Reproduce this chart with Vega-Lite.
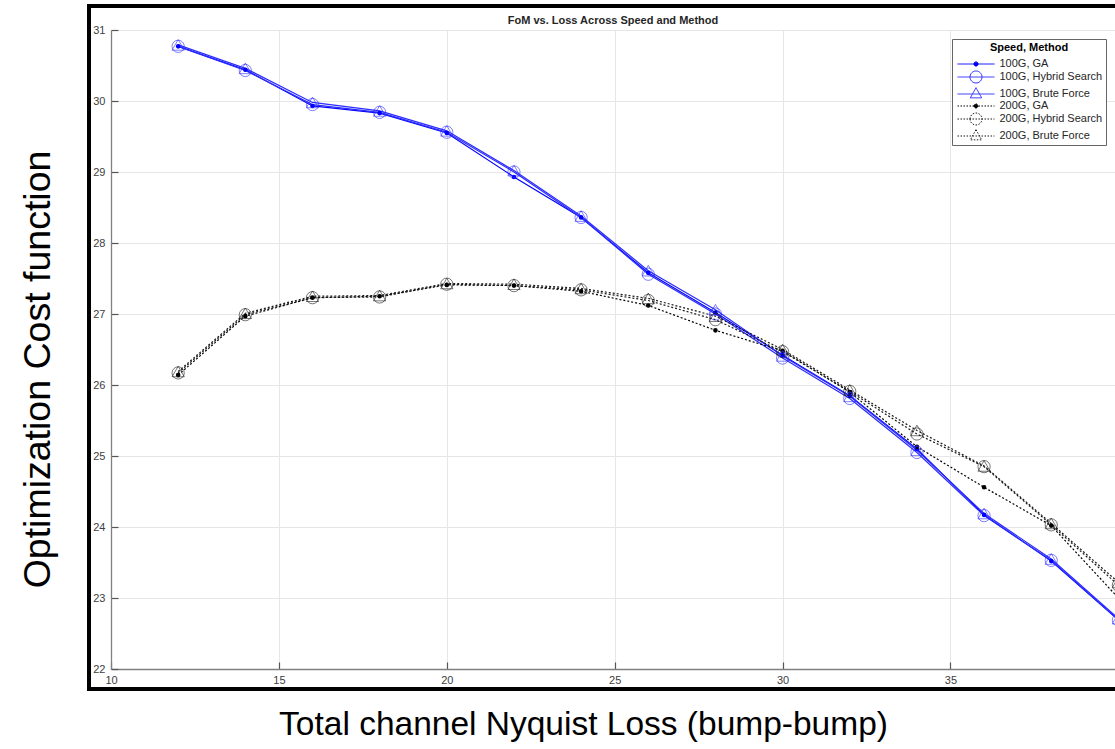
{
  "$schema": "https://vega.github.io/schema/vega-lite/v6.json",
  "width": 1004,
  "height": 639,
  "autosize": {"type": "none"},
  "padding": {"left": 111, "top": 30, "right": 0, "bottom": 80},
  "background": "white",
  "title": {
    "text": "FoM vs. Loss Across Speed and Method",
    "anchor": "middle",
    "frame": "group",
    "offset": -21,
    "fontSize": 11,
    "fontWeight": "bold",
    "font": "Liberation Sans",
    "color": "#262626"
  },
  "data": {
    "values": [
      {"loss": 12, "series": "100G, GA", "method": "GA", "fom": 30.77},
      {"loss": 14, "series": "100G, GA", "method": "GA", "fom": 30.44},
      {"loss": 16, "series": "100G, GA", "method": "GA", "fom": 29.93},
      {"loss": 18, "series": "100G, GA", "method": "GA", "fom": 29.83},
      {"loss": 20, "series": "100G, GA", "method": "GA", "fom": 29.55},
      {"loss": 22, "series": "100G, GA", "method": "GA", "fom": 28.93},
      {"loss": 24, "series": "100G, GA", "method": "GA", "fom": 28.36},
      {"loss": 26, "series": "100G, GA", "method": "GA", "fom": 27.58},
      {"loss": 28, "series": "100G, GA", "method": "GA", "fom": 27.02},
      {"loss": 30, "series": "100G, GA", "method": "GA", "fom": 26.42},
      {"loss": 32, "series": "100G, GA", "method": "GA", "fom": 25.85},
      {"loss": 34, "series": "100G, GA", "method": "GA", "fom": 25.10},
      {"loss": 36, "series": "100G, GA", "method": "GA", "fom": 24.17},
      {"loss": 38, "series": "100G, GA", "method": "GA", "fom": 23.52},
      {"loss": 40, "series": "100G, GA", "method": "GA", "fom": 22.69},

      {"loss": 12, "series": "100G, Hybrid Search", "method": "Hybrid Search", "fom": 30.77},
      {"loss": 14, "series": "100G, Hybrid Search", "method": "Hybrid Search", "fom": 30.43},
      {"loss": 16, "series": "100G, Hybrid Search", "method": "Hybrid Search", "fom": 29.95},
      {"loss": 18, "series": "100G, Hybrid Search", "method": "Hybrid Search", "fom": 29.84},
      {"loss": 20, "series": "100G, Hybrid Search", "method": "Hybrid Search", "fom": 29.56},
      {"loss": 22, "series": "100G, Hybrid Search", "method": "Hybrid Search", "fom": 29.00},
      {"loss": 24, "series": "100G, Hybrid Search", "method": "Hybrid Search", "fom": 28.36},
      {"loss": 26, "series": "100G, Hybrid Search", "method": "Hybrid Search", "fom": 27.56},
      {"loss": 28, "series": "100G, Hybrid Search", "method": "Hybrid Search", "fom": 27.00},
      {"loss": 30, "series": "100G, Hybrid Search", "method": "Hybrid Search", "fom": 26.38},
      {"loss": 32, "series": "100G, Hybrid Search", "method": "Hybrid Search", "fom": 25.81},
      {"loss": 34, "series": "100G, Hybrid Search", "method": "Hybrid Search", "fom": 25.05},
      {"loss": 36, "series": "100G, Hybrid Search", "method": "Hybrid Search", "fom": 24.16},
      {"loss": 38, "series": "100G, Hybrid Search", "method": "Hybrid Search", "fom": 23.53},
      {"loss": 40, "series": "100G, Hybrid Search", "method": "Hybrid Search", "fom": 22.69},

      {"loss": 12, "series": "100G, Brute Force", "method": "Brute Force", "fom": 30.79},
      {"loss": 14, "series": "100G, Brute Force", "method": "Brute Force", "fom": 30.46},
      {"loss": 16, "series": "100G, Brute Force", "method": "Brute Force", "fom": 29.98},
      {"loss": 18, "series": "100G, Brute Force", "method": "Brute Force", "fom": 29.86},
      {"loss": 20, "series": "100G, Brute Force", "method": "Brute Force", "fom": 29.58},
      {"loss": 22, "series": "100G, Brute Force", "method": "Brute Force", "fom": 29.02},
      {"loss": 24, "series": "100G, Brute Force", "method": "Brute Force", "fom": 28.38},
      {"loss": 26, "series": "100G, Brute Force", "method": "Brute Force", "fom": 27.61},
      {"loss": 28, "series": "100G, Brute Force", "method": "Brute Force", "fom": 27.06},
      {"loss": 30, "series": "100G, Brute Force", "method": "Brute Force", "fom": 26.41},
      {"loss": 32, "series": "100G, Brute Force", "method": "Brute Force", "fom": 25.84},
      {"loss": 34, "series": "100G, Brute Force", "method": "Brute Force", "fom": 25.08},
      {"loss": 36, "series": "100G, Brute Force", "method": "Brute Force", "fom": 24.19},
      {"loss": 38, "series": "100G, Brute Force", "method": "Brute Force", "fom": 23.55},
      {"loss": 40, "series": "100G, Brute Force", "method": "Brute Force", "fom": 22.71},

      {"loss": 12, "series": "200G, GA", "method": "GA", "fom": 26.14},
      {"loss": 14, "series": "200G, GA", "method": "GA", "fom": 26.97},
      {"loss": 16, "series": "200G, GA", "method": "GA", "fom": 27.23},
      {"loss": 18, "series": "200G, GA", "method": "GA", "fom": 27.25},
      {"loss": 20, "series": "200G, GA", "method": "GA", "fom": 27.41},
      {"loss": 22, "series": "200G, GA", "method": "GA", "fom": 27.40},
      {"loss": 24, "series": "200G, GA", "method": "GA", "fom": 27.32},
      {"loss": 26, "series": "200G, GA", "method": "GA", "fom": 27.12},
      {"loss": 28, "series": "200G, GA", "method": "GA", "fom": 26.77},
      {"loss": 30, "series": "200G, GA", "method": "GA", "fom": 26.48},
      {"loss": 32, "series": "200G, GA", "method": "GA", "fom": 25.90},
      {"loss": 34, "series": "200G, GA", "method": "GA", "fom": 25.13},
      {"loss": 36, "series": "200G, GA", "method": "GA", "fom": 24.56},
      {"loss": 38, "series": "200G, GA", "method": "GA", "fom": 24.02},
      {"loss": 40, "series": "200G, GA", "method": "GA", "fom": 23.00},

      {"loss": 12, "series": "200G, Hybrid Search", "method": "Hybrid Search", "fom": 26.17},
      {"loss": 14, "series": "200G, Hybrid Search", "method": "Hybrid Search", "fom": 26.99},
      {"loss": 16, "series": "200G, Hybrid Search", "method": "Hybrid Search", "fom": 27.23},
      {"loss": 18, "series": "200G, Hybrid Search", "method": "Hybrid Search", "fom": 27.24},
      {"loss": 20, "series": "200G, Hybrid Search", "method": "Hybrid Search", "fom": 27.42},
      {"loss": 22, "series": "200G, Hybrid Search", "method": "Hybrid Search", "fom": 27.40},
      {"loss": 24, "series": "200G, Hybrid Search", "method": "Hybrid Search", "fom": 27.34},
      {"loss": 26, "series": "200G, Hybrid Search", "method": "Hybrid Search", "fom": 27.19},
      {"loss": 28, "series": "200G, Hybrid Search", "method": "Hybrid Search", "fom": 26.92},
      {"loss": 30, "series": "200G, Hybrid Search", "method": "Hybrid Search", "fom": 26.47},
      {"loss": 32, "series": "200G, Hybrid Search", "method": "Hybrid Search", "fom": 25.91},
      {"loss": 34, "series": "200G, Hybrid Search", "method": "Hybrid Search", "fom": 25.31},
      {"loss": 36, "series": "200G, Hybrid Search", "method": "Hybrid Search", "fom": 24.85},
      {"loss": 38, "series": "200G, Hybrid Search", "method": "Hybrid Search", "fom": 24.03},
      {"loss": 40, "series": "200G, Hybrid Search", "method": "Hybrid Search", "fom": 23.18},

      {"loss": 12, "series": "200G, Brute Force", "method": "Brute Force", "fom": 26.19},
      {"loss": 14, "series": "200G, Brute Force", "method": "Brute Force", "fom": 27.01},
      {"loss": 16, "series": "200G, Brute Force", "method": "Brute Force", "fom": 27.25},
      {"loss": 18, "series": "200G, Brute Force", "method": "Brute Force", "fom": 27.26},
      {"loss": 20, "series": "200G, Brute Force", "method": "Brute Force", "fom": 27.43},
      {"loss": 22, "series": "200G, Brute Force", "method": "Brute Force", "fom": 27.42},
      {"loss": 24, "series": "200G, Brute Force", "method": "Brute Force", "fom": 27.36},
      {"loss": 26, "series": "200G, Brute Force", "method": "Brute Force", "fom": 27.22},
      {"loss": 28, "series": "200G, Brute Force", "method": "Brute Force", "fom": 26.97},
      {"loss": 30, "series": "200G, Brute Force", "method": "Brute Force", "fom": 26.50},
      {"loss": 32, "series": "200G, Brute Force", "method": "Brute Force", "fom": 25.93},
      {"loss": 34, "series": "200G, Brute Force", "method": "Brute Force", "fom": 25.36},
      {"loss": 36, "series": "200G, Brute Force", "method": "Brute Force", "fom": 24.86},
      {"loss": 38, "series": "200G, Brute Force", "method": "Brute Force", "fom": 24.05},
      {"loss": 40, "series": "200G, Brute Force", "method": "Brute Force", "fom": 23.22}
    ]
  },
  "layer": [
    {
      "transform": [{"filter": "indexof(datum.series, '100G') === 0"}],
      "mark": {"type": "line", "strokeWidth": 1.2},
      "encoding": {
        "x": {
          "field": "loss",
          "type": "quantitative",
          "scale": {"domain": [10, 39.899], "nice": false, "zero": false},
          "axis": {
            "values": [10, 15, 20, 25, 30, 35, 40],
            "format": "d",
            "title": "Total channel Nyquist Loss (bump-bump)",
            "titleFontSize": 33.5,
            "titleFont": "Liberation Sans",
            "titleFontWeight": "normal",
            "titleColor": "#000000",
            "titleX": 472,
            "titleY": 55,
            "titleAlign": "center",
            "titleBaseline": "middle",
            "tickSize": -7,
            "labelPadding": 12
          }
        },
        "y": {
          "field": "fom",
          "type": "quantitative",
          "scale": {"domain": [22, 31], "nice": false, "zero": false},
          "axis": {
            "values": [22, 23, 24, 25, 26, 27, 28, 29, 30, 31],
            "format": "d",
            "title": "Optimization Cost function",
            "titleFontSize": 37.5,
            "titleFont": "Liberation Sans",
            "titleFontWeight": "normal",
            "titleColor": "#000000",
            "titleAngle": -90,
            "titleX": -73,
            "titleY": 339,
            "titleAlign": "center",
            "titleBaseline": "middle",
            "tickSize": -7,
            "labelPadding": 13
          }
        },
        "stroke": {
          "field": "series",
          "type": "nominal",
          "scale": {
            "range": ["#2b2bff", "#0000ff", "#2b2bff", "#1a1a1a", "#000000", "#1a1a1a"]
          },
          "legend": null
        }
      }
    },
    {
      "transform": [{"filter": "indexof(datum.series, '200G') === 0"}],
      "mark": {"type": "line", "strokeWidth": 1.2, "strokeDash": [2, 2]},
      "encoding": {
        "x": {"field": "loss", "type": "quantitative"},
        "y": {"field": "fom", "type": "quantitative"},
        "stroke": {"field": "series", "type": "nominal", "legend": null}
      }
    },
    {
      "transform": [{"filter": "datum.method === 'GA'"}],
      "mark": {"type": "point", "shape": "circle", "filled": false, "size": 5, "strokeWidth": 2.4, "opacity": 1},
      "encoding": {
        "x": {"field": "loss", "type": "quantitative"},
        "y": {"field": "fom", "type": "quantitative"},
        "stroke": {"field": "series", "type": "nominal", "legend": null}
      }
    },
    {
      "transform": [{"filter": "datum.method === 'Hybrid Search'"}],
      "mark": {"type": "point", "shape": "circle", "filled": false, "size": 150, "strokeWidth": 1, "opacity": 1, "strokeOpacity": 0.6},
      "encoding": {
        "x": {"field": "loss", "type": "quantitative"},
        "y": {"field": "fom", "type": "quantitative"},
        "stroke": {"field": "series", "type": "nominal", "legend": null}
      }
    },
    {
      "transform": [{"filter": "datum.method === 'Brute Force'"}],
      "mark": {"type": "point", "shape": "triangle-up", "filled": false, "size": 150, "strokeWidth": 1, "opacity": 1, "strokeOpacity": 0.6},
      "encoding": {
        "x": {"field": "loss", "type": "quantitative"},
        "y": {"field": "fom", "type": "quantitative"},
        "stroke": {"field": "series", "type": "nominal", "legend": null}
      }
    },
    {
      "mark": {"type": "point", "filled": false, "size": 121, "strokeWidth": 1, "opacity": 0},
      "encoding": {
        "x": {"field": "loss", "type": "quantitative"},
        "y": {"field": "fom", "type": "quantitative"},
        "color": {
          "field": "series",
          "type": "nominal",
          "title": "Speed, Method",
          "scale": {
            "domain": ["100G, GA", "100G, Hybrid Search", "100G, Brute Force", "200G, GA", "200G, Hybrid Search", "200G, Brute Force"],
            "range": ["#0000ff", "#2b2bff", "#2b2bff", "#000000", "#1a1a1a", "#1a1a1a"]
          }
        },
        "strokeDash": {
          "field": "series",
          "type": "nominal",
          "title": "Speed, Method",
          "scale": {
            "domain": ["100G, GA", "100G, Hybrid Search", "100G, Brute Force", "200G, GA", "200G, Hybrid Search", "200G, Brute Force"],
            "range": [[1, 0], [1, 0], [1, 0], [1.5, 1.5], [1.5, 1.5], [1.5, 1.5]]
          }
        },
        "shape": {
          "field": "series",
          "type": "nominal",
          "title": "Speed, Method",
          "scale": {
            "domain": ["100G, GA", "100G, Hybrid Search", "100G, Brute Force", "200G, GA", "200G, Hybrid Search", "200G, Brute Force"],
            "range": [
              "M-3.36,0L3.36,0M-0.38,0A0.38,0.38,0,1,1,0.38,0A0.38,0.38,0,1,1,-0.38,0Z",
              "M-3.36,0L3.36,0M-1.09,0A1.09,1.09,0,1,1,1.09,0A1.09,1.09,0,1,1,-1.09,0Z",
              "M-3.36,0L3.36,0M0,-1.15L1.03,0.7L-1.03,0.7Z",
              "M-3.36,0L3.36,0M-0.38,0A0.38,0.38,0,1,1,0.38,0A0.38,0.38,0,1,1,-0.38,0Z",
              "M-3.36,0L3.36,0M-1.09,0A1.09,1.09,0,1,1,1.09,0A1.09,1.09,0,1,1,-1.09,0Z",
              "M-3.36,0L3.36,0M0,-1.15L1.03,0.7L-1.03,0.7Z"
            ]
          }
        },
        "fill": {
          "field": "series",
          "type": "nominal",
          "title": "Speed, Method",
          "scale": {
            "domain": ["100G, GA", "100G, Hybrid Search", "100G, Brute Force", "200G, GA", "200G, Hybrid Search", "200G, Brute Force"],
            "range": ["#0000ff", "transparent", "transparent", "#000000", "transparent", "transparent"]
          }
        }
      }
    },
    {
      "mark": {"type": "rect", "fill": "white", "fillOpacity": 0, "stroke": "#000000", "strokeWidth": 3},
      "encoding": {
        "x": {"datum": 9.333, "type": "quantitative"},
        "x2": {"datum": 40.673},
        "y": {"datum": 21.718, "type": "quantitative"},
        "y2": {"datum": 31.338}
      }
    }
  ],
  "config": {
    "view": {"stroke": null},
    "axis": {
      "grid": true,
      "gridColor": "#e6e6e6",
      "gridWidth": 1,
      "domainColor": "#808080",
      "domainWidth": 1.3,
      "tickColor": "#555555",
      "tickWidth": 1.2,
      "labelFont": "Liberation Sans",
      "labelFontSize": 11,
      "labelColor": "#404040",
      "labelFlush": false,
      "labelOverlap": false
    },
    "legend": {
      "orient": "top-right",
      "offset": 9,
      "symbolSize": 121,
      "symbolOffset": 15,
      "labelOffset": 17.5,
      "symbolOpacity": 1,
      "symbolStrokeWidth": 1,
      "titleFont": "Liberation Sans",
      "titleFontSize": 11,
      "titleFontWeight": "bold",
      "titleColor": "#000000",
      "titleAnchor": "middle",
      "titlePadding": 5,
      "labelFont": "Liberation Sans",
      "labelFontSize": 11,
      "labelColor": "#262626",
      "strokeColor": "#666666",
      "fillColor": "white",
      "padding": 3,
      "rowPadding": 0
    }
  }
}
